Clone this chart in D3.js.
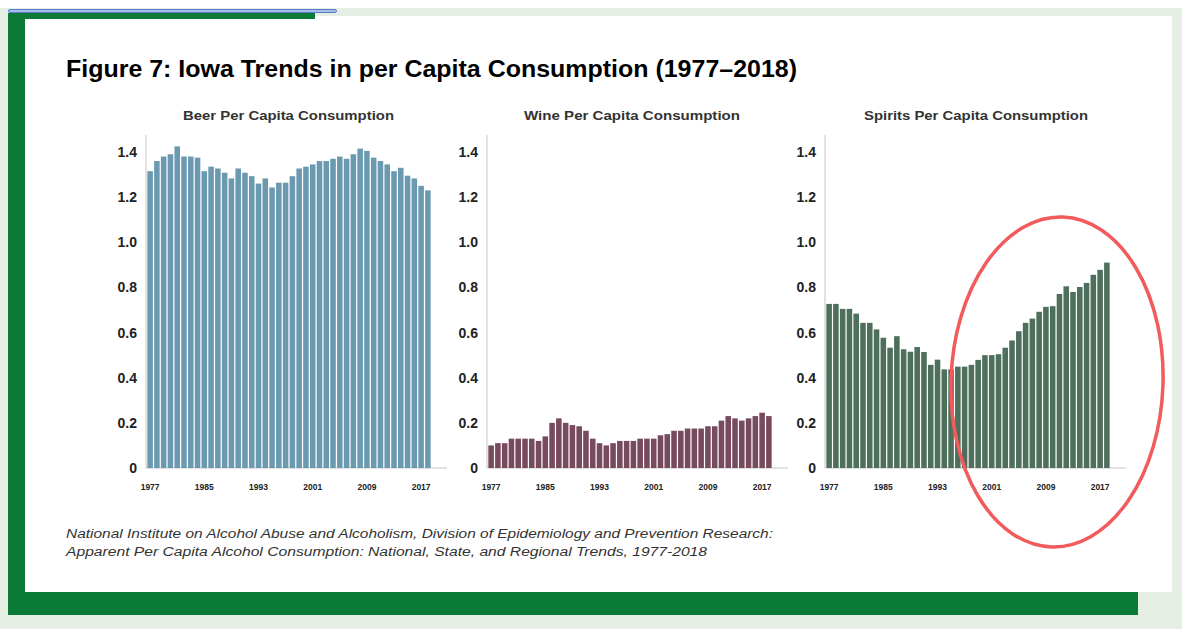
<!DOCTYPE html>
<html>
<head>
<meta charset="utf-8">
<script src="https://cdn.jsdelivr.net/npm/d3@7"></script>
<style>
  body { margin: 0; background: #e6efe3; }
  svg { display: block; }
  text { font-family: "Liberation Sans", Arial, sans-serif; }
</style>
</head>
<body>
<script>
// Iowa per capita consumption, 1977-2018
var years = d3.range(1977, 2019);

var beer = [1.315, 1.36, 1.38, 1.39, 1.425, 1.38, 1.38, 1.375, 1.315, 1.335,
            1.327, 1.308, 1.283, 1.327, 1.308, 1.293, 1.26, 1.283, 1.243, 1.264,
            1.264, 1.293, 1.327, 1.335, 1.345, 1.36, 1.36, 1.37, 1.38, 1.37,
            1.39, 1.415, 1.405, 1.375, 1.36, 1.345, 1.315, 1.33, 1.295, 1.283,
            1.25, 1.23];

var wine = [0.10, 0.11, 0.11, 0.13, 0.13, 0.13, 0.13, 0.12, 0.14, 0.20,
            0.22, 0.20, 0.19, 0.185, 0.165, 0.13, 0.11, 0.10, 0.11, 0.12,
            0.12, 0.12, 0.13, 0.13, 0.13, 0.145, 0.15, 0.165, 0.165, 0.175,
            0.175, 0.175, 0.185, 0.185, 0.21, 0.23, 0.22, 0.21, 0.22, 0.23,
            0.245, 0.23];

var spirits = [0.727, 0.727, 0.705, 0.705, 0.684, 0.643, 0.643, 0.614, 0.577, 0.533,
               0.584, 0.526, 0.515, 0.536, 0.514, 0.457, 0.48, 0.437, 0.437, 0.449,
               0.449, 0.457, 0.479, 0.50, 0.50, 0.504, 0.533, 0.565, 0.606, 0.643,
               0.662, 0.692, 0.714, 0.717, 0.771, 0.805, 0.78, 0.802, 0.82, 0.856,
               0.878, 0.91];

var yTicks = [0, 0.2, 0.4, 0.6, 0.8, 1.0, 1.2, 1.4];
var xTicks = [1977, 1985, 1993, 2001, 2009, 2017];

var width = 1182,
    height = 629;

var svg = d3.select("body").append("svg")
    .attr("width", width)
    .attr("height", height);

// page frame
svg.append("rect").attr("x", 0).attr("y", 0).attr("width", width).attr("height", 8).attr("fill", "#ffffff");
svg.append("rect").attr("x", 8).attr("y", 13).attr("width", 17).attr("height", 602).attr("fill", "#0b7a36");
svg.append("rect").attr("x", 8).attr("y", 592).attr("width", 1130).attr("height", 23).attr("fill", "#0b7a36");
svg.append("rect").attr("x", 8).attr("y", 13).attr("width", 307).attr("height", 6).attr("fill", "#0b7a36");
svg.append("rect").attr("x", 25).attr("y", 19).attr("width", 1147).attr("height", 573).attr("fill", "#ffffff");
svg.append("rect").attr("x", 315).attr("y", 16).attr("width", 857).attr("height", 4).attr("fill", "#ffffff");
svg.append("rect").attr("x", 8.5).attr("y", 9.5).attr("width", 328).attr("height", 3)
    .attr("rx", 1.5).attr("fill", "#a9bfea").attr("stroke", "#5679c9").attr("stroke-width", 1);

svg.append("text")
    .attr("x", 66).attr("y", 77)
    .attr("textLength", 731).attr("lengthAdjust", "spacingAndGlyphs")
    .style("font-size", "23px").style("font-weight", "bold").style("fill", "#000")
    .text("Figure 7: Iowa Trends in per Capita Consumption (1977\u20132018)");

var panels = [
    { title: "Beer Per Capita Consumption", values: beer, color: "#6b9ab0", axisX: 146, titleX: 183, titleW: 211 },
    { title: "Wine Per Capita Consumption", values: wine, color: "#774a5e", axisX: 487, titleX: 524, titleW: 216 },
    { title: "Spirits Per Capita Consumption", values: spirits, color: "#4f6f5d", axisX: 825, titleX: 864, titleW: 224 }
];

var y = d3.scaleLinear()
    .domain([0, 1.4])
    .range([468, 152]);

panels.forEach(function (p) {
    var x = d3.scaleBand()
        .domain(years)
        .range([p.axisX + 1, p.axisX + 285])
        .paddingInner(0.18)
        .paddingOuter(0.05);

    var g = svg.append("g");

    g.append("text")
        .attr("x", p.titleX).attr("y", 120)
        .attr("textLength", p.titleW).attr("lengthAdjust", "spacingAndGlyphs")
        .style("font-size", "12.5px").style("font-weight", "bold").style("fill", "#333")
        .text(p.title);

    // light axis lines
    g.append("line")
        .attr("x1", p.axisX).attr("x2", p.axisX)
        .attr("y1", 135).attr("y2", y(0))
        .attr("stroke", "#d9d9d9").attr("stroke-width", 1.5);
    g.append("line")
        .attr("x1", p.axisX).attr("x2", p.axisX + 301)
        .attr("y1", y(0)).attr("y2", y(0))
        .attr("stroke", "#d9d9d9").attr("stroke-width", 1.5);

    g.selectAll("rect.bar")
        .data(p.values)
        .enter().append("rect")
        .attr("class", "bar")
        .attr("x", function (d, i) { return x(years[i]); })
        .attr("width", x.bandwidth())
        .attr("y", function (d) { return y(d); })
        .attr("height", function (d) { return y(0) - y(d); })
        .attr("fill", p.color);

    var yAxis = g.append("g")
        .attr("transform", "translate(" + (p.axisX - 9) + ",0)")
        .call(d3.axisLeft(y).tickValues(yTicks).tickSize(0).tickPadding(0)
            .tickFormat(function (d) { return d === 0 ? "0" : d3.format(".1f")(d); }));
    yAxis.select(".domain").remove();
    yAxis.selectAll("text")
        .style("font-family", "'Liberation Sans', Arial, sans-serif")
        .style("font-size", "14px").style("font-weight", "bold").style("fill", "#222");

    var xAxis = g.append("g")
        .attr("transform", "translate(0," + y(0) + ")")
        .call(d3.axisBottom(x).tickValues(xTicks).tickSize(0).tickPadding(16));
    xAxis.select(".domain").remove();
    xAxis.selectAll("text")
        .style("font-family", "'Liberation Sans', Arial, sans-serif")
        .style("font-size", "8.5px").style("font-weight", "bold").style("fill", "#222");
});

// highlight ring around recent spirits growth
svg.append("ellipse")
    .attr("cx", 1057).attr("cy", 382)
    .attr("rx", 106).attr("ry", 165)
    .attr("transform", "rotate(2,1057,382)")
    .attr("fill", "none")
    .attr("stroke", "#f25a5c")
    .attr("stroke-width", 3.5);

var note = svg.append("text")
    .style("font-size", "12.5px").style("font-style", "italic").style("fill", "#333");
note.append("tspan").attr("x", 66).attr("y", 538)
    .attr("textLength", 707).attr("lengthAdjust", "spacingAndGlyphs")
    .text("National Institute on Alcohol Abuse and Alcoholism, Division of Epidemiology and Prevention Research:");
note.append("tspan").attr("x", 66).attr("y", 556)
    .attr("textLength", 641).attr("lengthAdjust", "spacingAndGlyphs")
    .text("Apparent Per Capita Alcohol Consumption: National, State, and Regional Trends, 1977-2018");
</script>
</body>
</html>
